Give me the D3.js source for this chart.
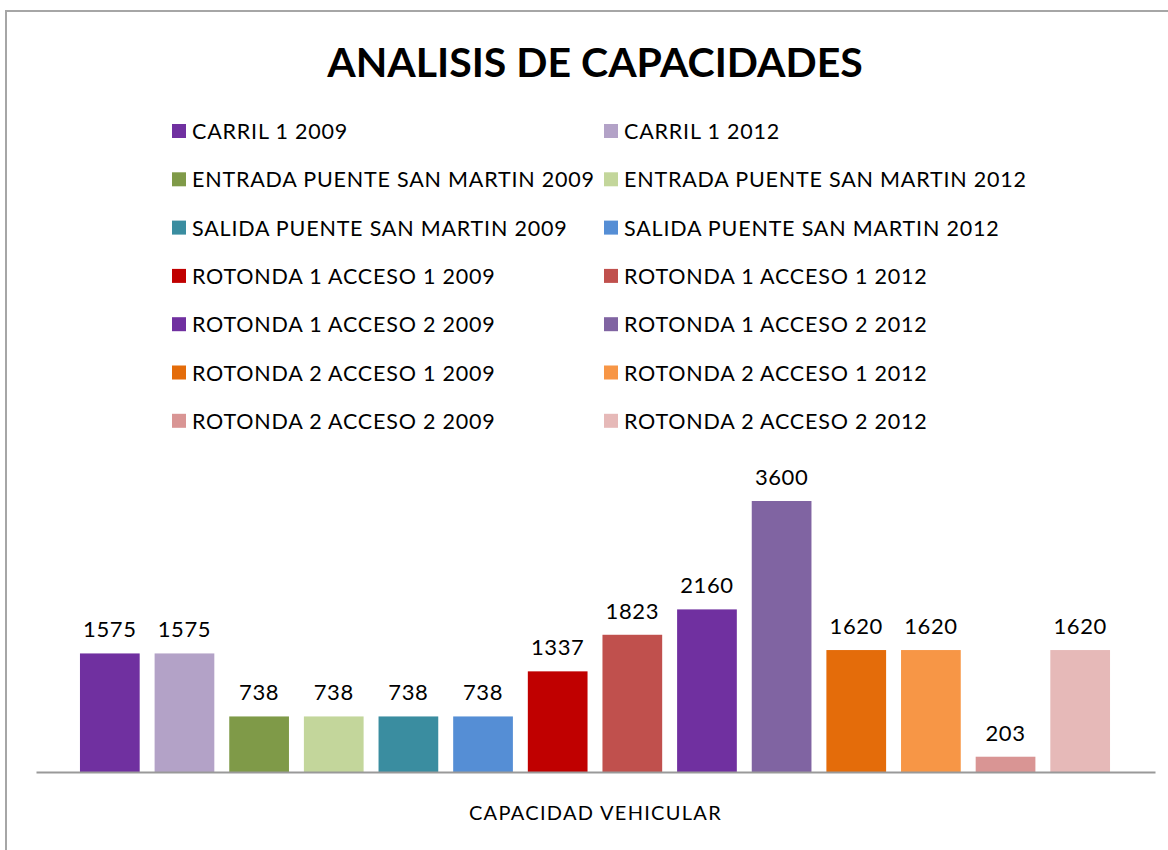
<!DOCTYPE html>
<html>
<head>
<meta charset="utf-8">
<script src="https://cdn.jsdelivr.net/npm/d3@7"></script>
<style>
  body { margin: 0; background: #fff; }
  text { font-family: Lato, sans-serif; fill: #000; }
</style>
</head>
<body>
<svg id="chart" width="1168" height="850"></svg>
<script>
const series = [
  "CARRIL 1 2009", "CARRIL 1 2012",
  "ENTRADA PUENTE SAN MARTIN 2009", "ENTRADA PUENTE SAN MARTIN 2012",
  "SALIDA PUENTE SAN MARTIN 2009", "SALIDA PUENTE SAN MARTIN 2012",
  "ROTONDA 1 ACCESO 1 2009", "ROTONDA 1 ACCESO 1 2012",
  "ROTONDA 1 ACCESO 2 2009", "ROTONDA 1 ACCESO 2 2012",
  "ROTONDA 2 ACCESO 1 2009", "ROTONDA 2 ACCESO 1 2012",
  "ROTONDA 2 ACCESO 2 2009", "ROTONDA 2 ACCESO 2 2012"
];
const values = [1575, 1575, 738, 738, 738, 738, 1337, 1823, 2160, 3600, 1620, 1620, 203, 1620];
const colors = [
  "#7030a0", "#b3a2c7", "#7f9a48", "#c3d69b", "#3a8da0", "#558ed5",
  "#c00000", "#c0504d", "#7030a0", "#8064a2", "#e46c0a", "#f79646",
  "#d99594", "#e6b9b8"
];
const category = "CAPACIDAD VEHICULAR";
const title = "ANALISIS DE CAPACIDADES";

const svg = d3.select("#chart");

// chart area frame (cut off at right and bottom like the original)
svg.append("rect")
  .attr("x", 6).attr("y", 11)
  .attr("width", 1200).attr("height", 900)
  .attr("fill", "none")
  .attr("stroke", "#a6a6a6")
  .attr("stroke-width", 2);

// title
svg.append("text")
  .attr("x", 595).attr("y", 77)
  .attr("text-anchor", "middle")
  .style("font-weight", "bold")
  .style("font-size", "41px")
  .text(title);

// legend, two columns
const legend = svg.append("g");
const leg = legend.selectAll("g").data(series).join("g")
  .attr("transform", (d, i) => `translate(${i % 2 ? 604 : 172},${131 + Math.floor(i / 2) * 48.3})`);
leg.append("rect")
  .attr("x", 0).attr("y", -7)
  .attr("width", 14).attr("height", 14)
  .attr("fill", (d, i) => colors[i]);
leg.append("text")
  .attr("x", 20).attr("y", 8)
  .style("font-size", "21.5px")
  .style("letter-spacing", "0.8px")
  .text(d => d);

// scales
const x = d3.scaleBand()
  .domain(series)
  .range([72.5, 1117.5])
  .paddingInner(0.2)
  .paddingOuter(0.1);

const y = d3.scaleLinear()
  .domain([0, 3600])
  .range([772, 501]);

// bars
svg.selectAll(".bar").data(series).join("rect")
  .attr("class", "bar")
  .attr("x", d => x(d))
  .attr("y", (d, i) => y(values[i]))
  .attr("width", x.bandwidth())
  .attr("height", (d, i) => y(0) - y(values[i]))
  .attr("fill", (d, i) => colors[i]);

// data labels
svg.selectAll(".lbl").data(series).join("text")
  .attr("class", "lbl")
  .attr("x", d => x(d) + x.bandwidth() / 2)
  .attr("y", (d, i) => y(values[i]) - 16)
  .attr("text-anchor", "middle")
  .style("font-size", "22px")
  .style("letter-spacing", "0.6px")
  .text((d, i) => values[i]);

// category axis
const xAxis = d3.scaleBand().domain([category]).range([36, 1155]);
const axisG = svg.append("g")
  .attr("transform", `translate(0,${y(0)})`)
  .call(d3.axisBottom(xAxis).tickSize(0).tickPadding(34));
axisG.select(".domain").attr("stroke", "#999").attr("stroke-width", 2);
axisG.selectAll(".tick text")
  .style("font-family", "Lato, sans-serif")
  .style("font-size", "20px")
  .style("letter-spacing", "1.3px")
  .attr("fill", "#000");
</script>
</body>
</html>
